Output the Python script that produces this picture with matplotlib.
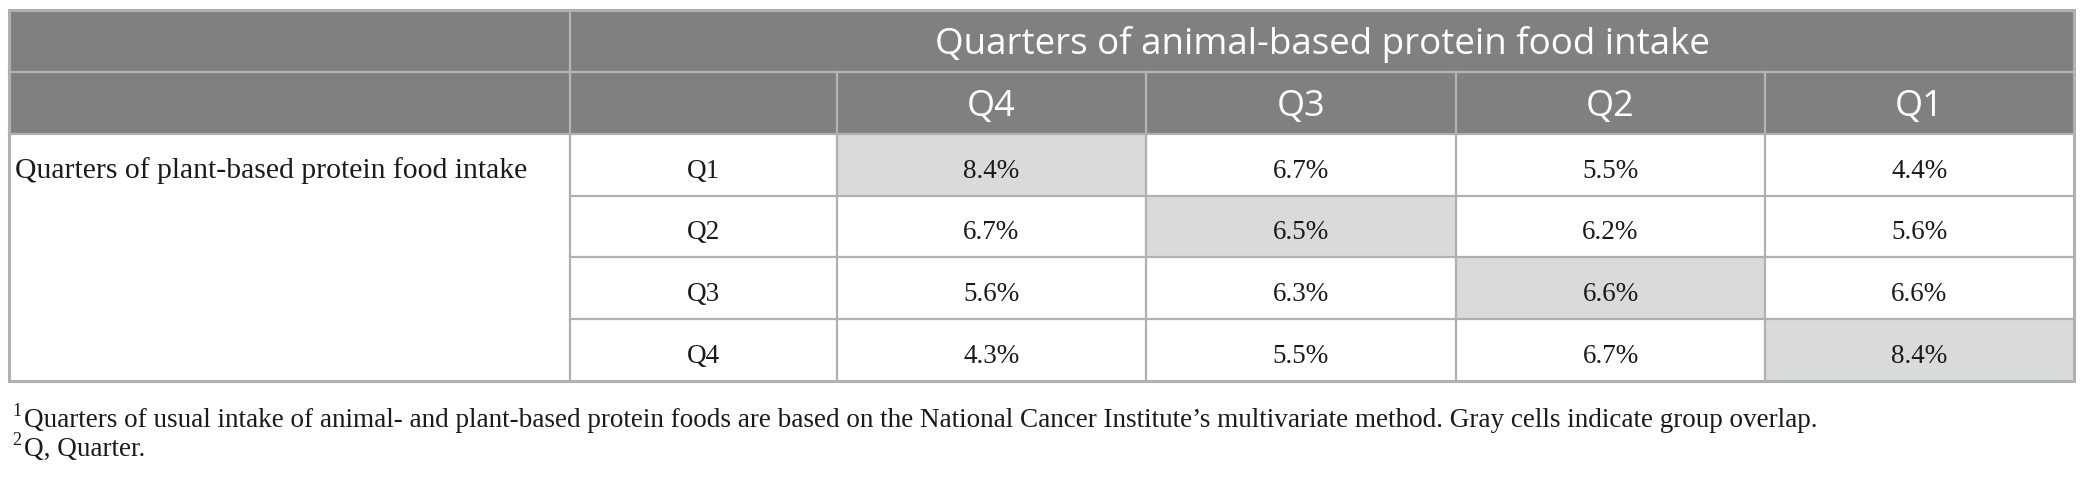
import matplotlib.pyplot as plt
from matplotlib.patches import Rectangle

# table content
title = "Quarters of animal-based protein food intake"
col_labels = ["Q4", "Q3", "Q2", "Q1"]
row_title = "Quarters of plant-based protein food intake"
row_labels = ["Q1", "Q2", "Q3", "Q4"]
values = [
    [8.4, 6.7, 5.5, 4.4],
    [6.7, 6.5, 6.2, 5.6],
    [5.6, 6.3, 6.6, 6.6],
    [4.3, 5.5, 6.7, 8.4],
]
# gray cells: same quarter rank in both groups
overlap = [(0, 0), (1, 1), (2, 2), (3, 3)]
footnotes = [
    ("1", "Quarters of usual intake of animal- and plant-based protein foods are based on the "
          "National Cancer Institute\u2019s multivariate method. Gray cells indicate group overlap."),
    ("2", "Q, Quarter."),
]

W, H = 2087, 481
HEAD_BG = "#808080"
HEAD_LINE = "#b4b4b4"
GRID = "#b0b0b0"
SHADE = "#d9dbda"
TXT = "#1a1a1a"
SANS = "Open Sans"
SERIF = "Liberation Serif"

# layout in pixels
xs = [9, 570, 837, 1146, 1456, 1765, 2074]
ys = [11, 73, 135, 197, 258, 320, 382]

fig = plt.figure(figsize=(W / 100, H / 100), dpi=100)
ax = fig.add_axes([0, 0, 1, 1])
ax.set_xlim(0, W)
ax.set_ylim(H, 0)
ax.axis("off")

# header background
ax.add_patch(Rectangle((xs[0], ys[0]), xs[-1] - xs[0], ys[2] - ys[0],
                       facecolor=HEAD_BG, edgecolor="none"))

# shaded cells
for r, c in overlap:
    ax.add_patch(Rectangle((xs[c + 2], ys[r + 2]), xs[c + 3] - xs[c + 2], ys[r + 3] - ys[r + 2],
                           facecolor=SHADE, edgecolor="none"))

lw = 1.6
# header lines
ax.plot([xs[0], xs[-1]], [ys[1], ys[1]], color=HEAD_LINE, lw=lw)
ax.plot([xs[1], xs[1]], [ys[0], ys[2]], color=HEAD_LINE, lw=lw)
for x in xs[2:-1]:
    ax.plot([x, x], [ys[1], ys[2]], color=HEAD_LINE, lw=lw)

# body lines
for y in ys[3:-1]:
    ax.plot([xs[1], xs[-1]], [y, y], color=GRID, lw=lw)
for x in xs[1:-1]:
    ax.plot([x, x], [ys[2], ys[-1]], color=GRID, lw=lw)
ax.plot([xs[0], xs[-1]], [ys[2], ys[2]], color=GRID, lw=lw)

# outer border
ax.add_patch(Rectangle((xs[0], ys[0]), xs[-1] - xs[0], ys[-1] - ys[0],
                       facecolor="none", edgecolor=GRID, lw=2.2))

# header text
ax.text((xs[1] + xs[-1]) / 2, 54, title, ha="center", va="baseline",
        color="white", fontsize=26.5, family=SANS)
for i, lab in enumerate(col_labels):
    ax.text((xs[i + 2] + xs[i + 3]) / 2, 116, lab, ha="center", va="baseline",
            color="white", fontsize=26, family=SANS)

# body text
ax.text(15, 178, row_title, ha="left", va="baseline", fontsize=21.3, family=SERIF, color=TXT)
for r, lab in enumerate(row_labels):
    yb = (ys[r + 2] + ys[r + 3]) / 2 + 12
    ax.text((xs[1] + xs[2]) / 2, yb, lab, ha="center", va="baseline",
            fontsize=19.5, family=SERIF, color=TXT)
    for c, v in enumerate(values[r]):
        ax.text((xs[c + 2] + xs[c + 3]) / 2, yb, f"{v:.1f}%", ha="center", va="baseline",
                fontsize=19.5, family=SERIF, color=TXT)

# footnotes
for i, (mark, txt) in enumerate(footnotes):
    yb = 427 + 29 * i
    ax.text(12, yb - 11, mark, ha="left", va="baseline", fontsize=13, family=SERIF, color=TXT)
    ax.text(24, yb, txt, ha="left", va="baseline", fontsize=19.5, family=SERIF, color=TXT)

fig.savefig("out.png", dpi=100)
